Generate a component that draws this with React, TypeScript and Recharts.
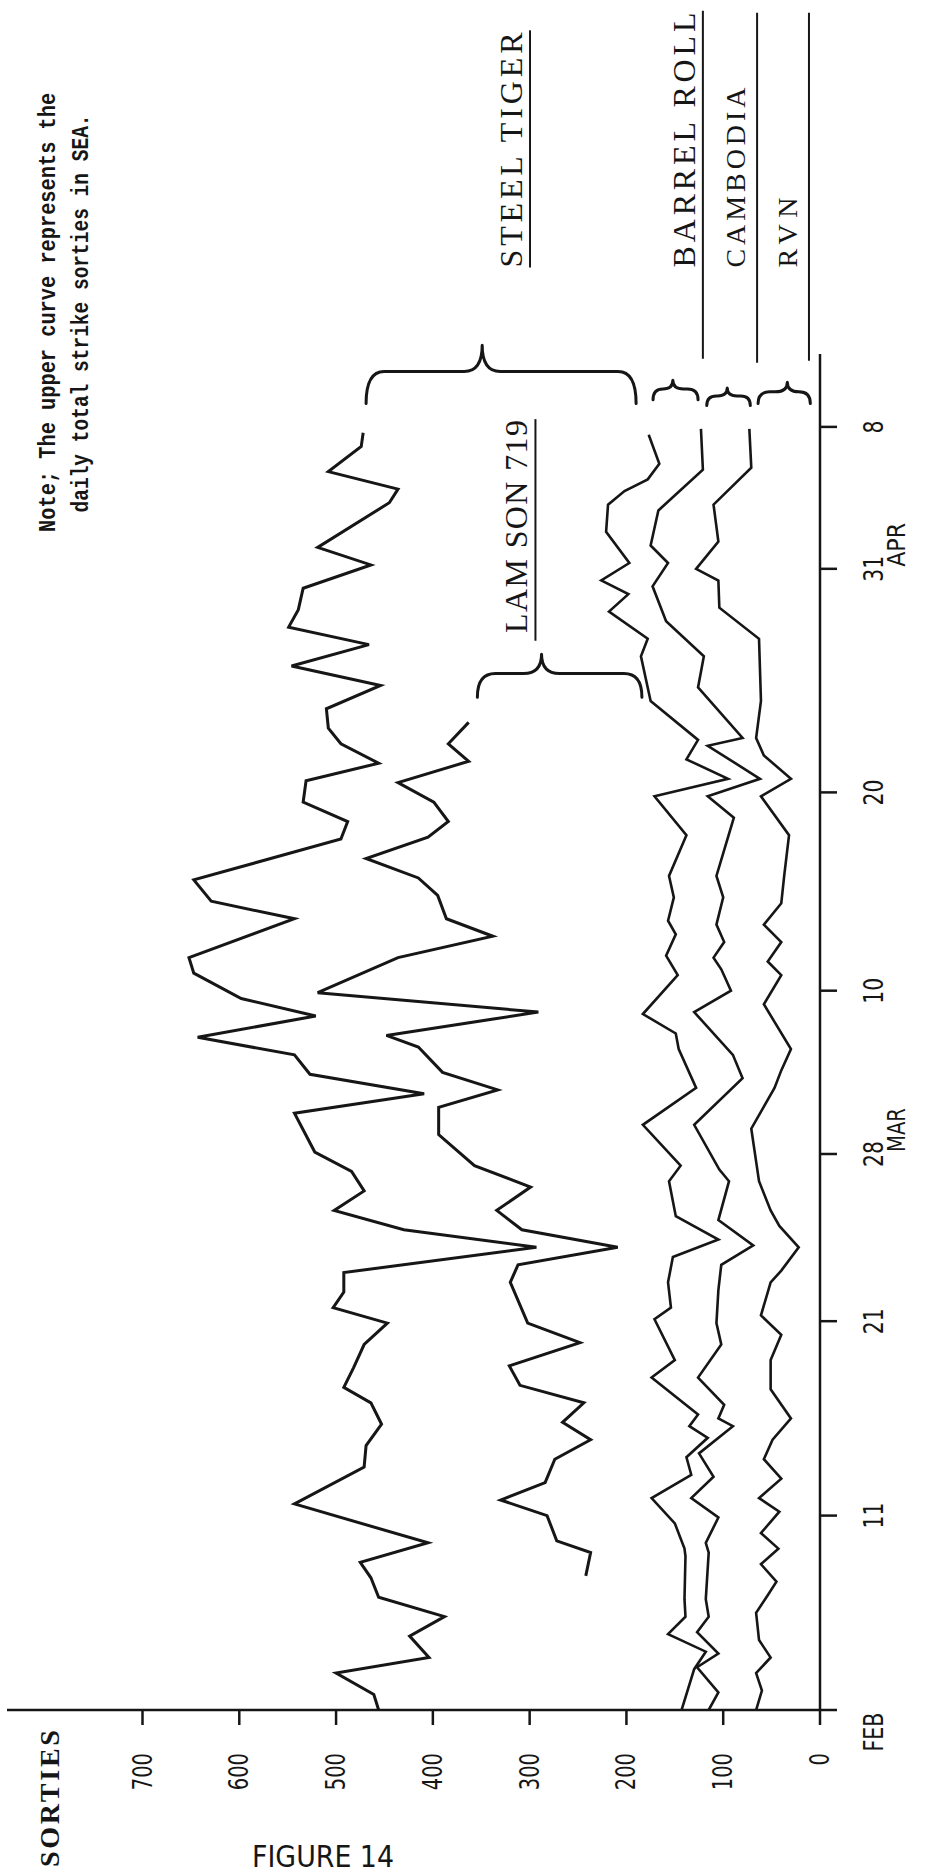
import React from "react";
import {
  LineChart,
  Line,
  XAxis,
  YAxis,
  ReferenceArea,
  ReferenceLine,
  ReferenceDot
} from "recharts";

// [day since 1 Feb, sorties]
const totalSorties = [
  [0, 456], [0.8, 461], [1.9, 500], [2.7, 404], [3.8, 424], [4.8, 388], [5.8, 456], [6.8, 464],
  [7.6, 475], [8.6, 405], [10.6, 543], [12.5, 471], [13.6, 469], [14.7, 453], [15.8, 464],
  [16.6, 492], [17.6, 482], [18.8, 471], [19.9, 447], [20.7, 503], [21.5, 492], [22.5, 492],
  [23.8, 293], [24.7, 430], [25.7, 502], [26.7, 471], [27.7, 484], [28.7, 522], [30.7, 543],
  [31.7, 409], [32.7, 527], [33.7, 543], [34.6, 643], [35.7, 521], [36.6, 598], [37.9, 647],
  [38.7, 652], [40.7, 543], [41.6, 629], [42.7, 647], [44.8, 495], [45.7, 488], [46.7, 534],
  [47.8, 531], [48.7, 456], [49.7, 495], [50.5, 508], [51.5, 510], [52.7, 454], [53.7, 546],
  [54.8, 466], [55.7, 549], [56.6, 539], [57.7, 534], [58.9, 464], [59.8, 519], [62.1, 445],
  [62.8, 436], [63.7, 508], [65.0, 474], [65.7, 472]
];

const lamSonTop = [
  [6.9, 242], [8.1, 237], [8.7, 272], [10.0, 282], [10.8, 330], [11.7, 284], [12.9, 274],
  [13.9, 237], [14.8, 266], [15.8, 244], [16.7, 310], [17.7, 321], [18.9, 248], [19.9, 302],
  [22.0, 320], [22.9, 312], [23.8, 209], [24.7, 308], [25.7, 334], [26.9, 299], [28.0, 357],
  [29.6, 394], [31.0, 394], [31.9, 333], [32.8, 390], [34.1, 415], [34.7, 448], [35.9, 291],
  [36.9, 519], [38.7, 436], [39.8, 338], [40.7, 386], [41.9, 395], [42.8, 415], [43.8, 469],
  [44.9, 405], [45.7, 384], [46.7, 399], [47.7, 436], [48.8, 363], [49.7, 384], [50.8, 363]
];

const barrelRollTop = [
  [0, 143], [2.1, 130], [3.0, 118], [3.9, 157], [4.8, 139], [5.7, 140], [7.9, 139], [8.3, 140],
  [9.6, 150], [10.9, 174], [12.1, 133], [13.0, 138], [14.0, 116], [14.6, 135], [15.2, 126],
  [17.1, 174], [18.0, 150], [20.1, 171], [20.7, 154], [22.0, 157], [23.3, 152], [24.2, 105],
  [25.4, 149], [27.2, 156], [28.0, 144], [30.1, 183], [32.0, 128], [34.0, 146], [34.8, 149],
  [35.8, 183], [37.8, 147], [38.8, 159], [39.9, 149], [40.6, 157], [41.8, 151], [42.9, 156],
  [45.0, 138], [47.0, 171], [47.9, 95], [48.9, 138], [49.9, 126], [51.9, 175], [54.2, 185],
  [55.1, 178], [56.5, 218], [57.4, 198], [58.1, 226], [59.0, 197], [60.6, 221], [62.0, 219],
  [62.7, 202], [63.3, 178], [64.1, 166], [65.6, 177]
];

const cambodiaTop = [
  [0, 115], [0.9, 105], [2.2, 127], [2.9, 105], [4.0, 127], [4.8, 115], [5.7, 118], [8.1, 115],
  [8.6, 118], [9.9, 105], [10.9, 133], [12.0, 110], [13.2, 125], [14.6, 90], [15.0, 105],
  [15.7, 99], [17.1, 126], [18.8, 102], [19.9, 107], [21.6, 105], [22.9, 102], [23.9, 69],
  [25.2, 105], [27.2, 94], [27.8, 104], [30.1, 130], [32.5, 80], [33.7, 90], [35.9, 130],
  [37.0, 92], [38.1, 102], [38.7, 110], [39.5, 99], [40.4, 107], [41.8, 100], [42.9, 107],
  [45.9, 89], [47.0, 116], [47.9, 62], [49.6, 116], [50.0, 80], [52.6, 126], [54.2, 120],
  [56.0, 159], [57.8, 173], [59.0, 157], [59.9, 175], [61.7, 167], [63.8, 121], [65.9, 123]
];

const rvnTop = [
  [0, 66], [1.0, 60], [1.9, 66], [2.7, 51], [3.6, 63], [5.0, 66], [5.9, 54], [6.6, 45], [7.5, 61],
  [8.3, 43], [9.1, 61], [10.2, 42], [10.9, 63], [11.9, 40], [12.9, 58], [13.9, 49], [15.0, 30],
  [16.5, 51], [18.0, 51], [19.3, 40], [20.3, 61], [22.0, 51], [22.6, 40], [23.8, 22], [24.9, 42],
  [25.7, 51], [27.2, 63], [29.9, 71], [32.0, 47], [32.9, 40], [34.0, 30], [36.3, 58], [37.8, 40],
  [38.5, 54], [39.5, 40], [40.4, 58], [41.5, 40], [42.9, 37], [45.0, 32], [47.0, 61], [47.9, 30],
  [49.1, 58], [50.0, 66], [51.9, 61], [55.1, 63], [56.7, 104], [58.1, 105], [58.7, 128],
  [60.1, 105], [62.0, 110], [63.9, 71], [65.9, 73]
];

const sortiesTicks = [0, 100, 200, 300, 400, 500, 600, 700];
const dateTicks = [0, 10, 20, 28.6, 37, 47.2, 58.7, 66];
const dateTickLabels = ["FEB", "11", "21", "28", "10", "20", "31", "8"];
const monthTickLabels = ["", "", "", "MAR", "", "", "APR", ""];

const INK = "#161616";
const CONDENSED = "'Liberation Sans Narrow', 'DejaVu Sans Condensed', 'Liberation Sans', Arial, sans-serif";
const TYPE = "'Liberation Serif', 'DejaVu Serif', serif";
const MONO = "'Liberation Mono', 'DejaVu Sans Mono', monospace";

const toRows = (pts: number[][]) => pts.map(([d, v]) => ({ d, v }));

const SortiesTick = (props: any) => {
  const { x, y, payload } = props;
  const s = String(payload.value);
  return (
    <text x={x} y={y + 9} textAnchor="end" fill={INK} fontSize={26} fontFamily={CONDENSED}
      textLength={s.length * 12.4} lengthAdjust="spacingAndGlyphs">
      {s}
    </text>
  );
};

const DateTick = (props: any) => {
  const { x, y, payload } = props;
  const i = dateTicks.indexOf(payload.value);
  const label = dateTickLabels[i] || "";
  const month = monthTickLabels[i];
  // the FEB label sits a little below the corner of the axes
  const dx = i === 0 ? -22 : 0;
  return (
    <g>
      <text x={x + dx} y={y + 46} textAnchor="middle" fill={INK} fontSize={26} fontFamily={CONDENSED}
        textLength={label.length * 13} lengthAdjust="spacingAndGlyphs">
        {label}
      </text>
      {month ? (
        <text x={x + 24} y={y + 68} textAnchor="middle" fill={INK} fontSize={24} fontFamily={CONDENSED}
          textLength={44} lengthAdjust="spacingAndGlyphs">
          {month}
        </text>
      ) : null}
    </g>
  );
};

// curly brace opening toward the curves, nib pointing away from them
const braceShape = (nib: number) => (p: any) => {
  const { x, y, width: w, height: h } = p;
  const xb = x + w * 0.55;
  const ym = y + h * nib;
  const r1 = Math.min(w * 0.55, (h * nib) / 2, 18);
  const r2 = Math.min(w * 0.55, (h * (1 - nib)) / 2, 18);
  const d = `M${x},${y} Q${xb},${y} ${xb},${y + r1} L${xb},${ym - r1} Q${xb},${ym} ${x + w},${ym} ` +
    `Q${xb},${ym} ${xb},${ym + r2} L${xb},${y + h - r2} Q${xb},${y + h} ${x},${y + h}`;
  return <path d={d} fill="none" stroke={INK} strokeWidth={3} strokeLinecap="round" strokeLinejoin="round" />;
};

const textMark = (label: string, size: number, length: number, family: string, weight = 400, adjust = "spacing") =>
  (p: any) => (
    <text x={p.cx} y={p.cy} fill={INK} fontSize={size} fontFamily={family} fontWeight={weight}
      textLength={length} lengthAdjust={adjust}>
      {label}
    </text>
  );

const seg = (x1: number, x2: number, y: number) => [{ x: x1, y }, { x: x2, y }];

export default function App() {
  return (
    <div style={{ position: "absolute", left: 0, top: 0, width: 925, height: 1875, background: "#fff", overflow: "hidden" }}>
      <div style={{
        position: "absolute", left: 0, top: 0, width: 1875, height: 925,
        transformOrigin: "0 0", transform: "translate(0px, 1875px) rotate(-90deg)"
      }}>
        <LineChart width={1875} height={925} margin={{ top: 7, right: 354, bottom: 0, left: 0 }}>
          <XAxis type="number" dataKey="d" domain={[0, 69.75]} ticks={dateTicks} interval={0}
            tick={(p: any) => <DateTick {...p} />} tickSize={17} tickMargin={0} height={105}
            axisLine={{ stroke: INK, strokeWidth: 2.5 }} tickLine={{ stroke: INK, strokeWidth: 2.5 }} allowDataOverflow />
          <YAxis type="number" domain={[0, 840]} ticks={sortiesTicks} interval={0} width={165}
            tick={(p: any) => <SortiesTick {...p} />} tickSize={15} tickMargin={28}
            axisLine={{ stroke: INK, strokeWidth: 2.5 }} tickLine={{ stroke: INK, strokeWidth: 2.5 }} allowDataOverflow />

          <Line data={toRows(totalSorties)} dataKey="v" type="linear" dot={false} stroke={INK} strokeWidth={3} isAnimationActive={false} />
          <Line data={toRows(lamSonTop)} dataKey="v" type="linear" dot={false} stroke={INK} strokeWidth={3} isAnimationActive={false} />
          <Line data={toRows(barrelRollTop)} dataKey="v" type="linear" dot={false} stroke={INK} strokeWidth={2.6} isAnimationActive={false} />
          <Line data={toRows(cambodiaTop)} dataKey="v" type="linear" dot={false} stroke={INK} strokeWidth={2.6} isAnimationActive={false} />
          <Line data={toRows(rvnTop)} dataKey="v" type="linear" dot={false} stroke={INK} strokeWidth={2.6} isAnimationActive={false} />

          {/* braces */}
          <ReferenceArea x1={67.2} x2={70.2} y1={190} y2={469} ifOverflow="visible" shape={braceShape(0.43)} />
          <ReferenceArea x1={52.1} x2={54.3} y1={184} y2={354} ifOverflow="visible" shape={braceShape(0.39)} />
          <ReferenceArea x1={67.4} x2={68.4} y1={126} y2={172.5} ifOverflow="visible" shape={braceShape(0.44)} />
          <ReferenceArea x1={67.1} x2={68.0} y1={72} y2={117} ifOverflow="visible" shape={braceShape(0.47)} />
          <ReferenceArea x1={67.2} x2={68.3} y1={10} y2={64} ifOverflow="visible" shape={braceShape(0.56)} />

          {/* label rules */}
          <ReferenceLine segment={seg(74.2, 86.4, 299.6)} ifOverflow="visible" stroke={INK} strokeWidth={2} />
          <ReferenceLine segment={seg(55.0, 66.4, 294)} ifOverflow="visible" stroke={INK} strokeWidth={2} />
          <ReferenceLine segment={seg(69.5, 87.4, 121)} ifOverflow="visible" stroke={INK} strokeWidth={2} />
          <ReferenceLine segment={seg(69.3, 87.3, 65)} ifOverflow="visible" stroke={INK} strokeWidth={2} />
          <ReferenceLine segment={seg(69.4, 87.3, 11.4)} ifOverflow="visible" stroke={INK} strokeWidth={2} />

          {/* labels */}
          <ReferenceDot x={74.2} y={307.9} r={0} ifOverflow="visible" shape={textMark("STEEL TIGER", 32, 235, TYPE)} />
          <ReferenceDot x={74.2} y={129} r={0} ifOverflow="visible" shape={textMark("BARREL ROLL", 32, 255, TYPE)} />
          <ReferenceDot x={74.2} y={77.5} r={0} ifOverflow="visible" shape={textMark("CAMBODIA", 28, 180, TYPE)} />
          <ReferenceDot x={74.2} y={23.8} r={0} ifOverflow="visible" shape={textMark("RVN", 28, 70, TYPE)} />
          <ReferenceDot x={55.4} y={302.7} r={0} ifOverflow="visible" shape={textMark("LAM SON 719", 32, 213, TYPE)} />
          <ReferenceDot x={60.6} y={790} r={0} ifOverflow="visible"
            shape={textMark("Note; The upper curve represents  the", 23, 439, MONO, 700, "spacingAndGlyphs")} />
          <ReferenceDot x={61.6} y={756} r={0} ifOverflow="visible"
            shape={textMark("daily total strike sorties in SEA.", 23, 398, MONO, 700, "spacingAndGlyphs")} />
          <ReferenceDot x={-8.08} y={786} r={0} ifOverflow="visible"
            shape={textMark("SORTIES", 28, 137, TYPE, 700)} />
        </LineChart>
      </div>
      <svg width={925} height={60} style={{ position: "absolute", left: 0, top: 1815 }}>
        <text x={252} y={52} fill={INK} fontSize={30} fontFamily={CONDENSED}
          textLength={142} lengthAdjust="spacingAndGlyphs">
          FIGURE 14
        </text>
      </svg>
    </div>
  );
}
